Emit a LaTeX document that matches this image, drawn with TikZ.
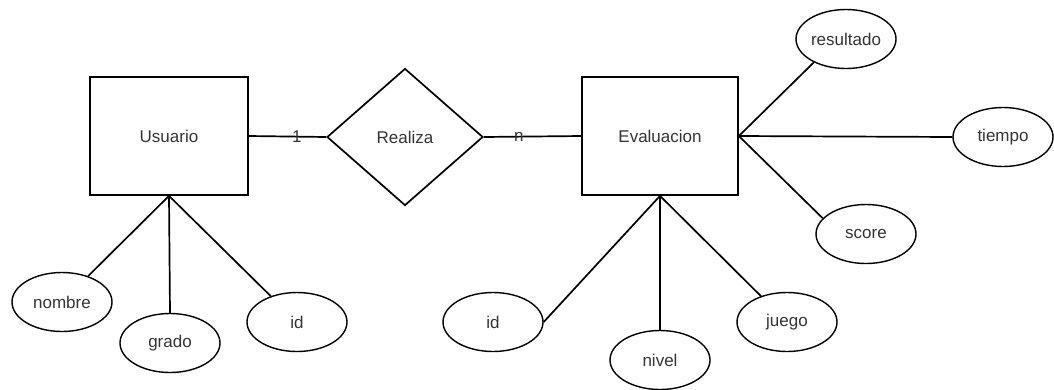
\documentclass[tikz,border=0pt]{standalone}
\usepackage{fontspec}
\setmainfont{Liberation Sans}
\usetikzlibrary{shapes.geometric}
\newcommand\diafont{\fontsize{17}{20}\selectfont}
\begin{document}
\begin{tikzpicture}[x=1pt,y=-1pt,
  lw/.style={line width=1.7pt},
  entity/.style={draw, lw, rectangle, inner sep=0pt, minimum height=118pt, text=black!80, font=\diafont},
  relation/.style={draw, lw, diamond, inner sep=0pt, minimum width=156pt, minimum height=137pt, text=black!80, font=\diafont},
  attr/.style={draw, line width=1.4pt, ellipse, inner sep=0pt, minimum width=100pt, minimum height=59pt, text=black!80, font=\diafont},
  conn/.style={lw},
  card/.style={text=black!80, font=\diafont, inner sep=0pt}]
\useasboundingbox (0,0) rectangle (1054,389);
% entities and relation
\node[entity, minimum width=158pt] (usuario) at (169,136) {Usuario};
\node[entity, minimum width=156pt] (evaluacion) at (660,136) {Evaluacion};
\node[relation] (realiza) at (405,137) {Realiza};
% attributes of Usuario
\node[attr] (nombre) at (62,302) {nombre};
\node[attr] (grado) at (170,343) {grado};
\node[attr] (uid) at (297,322) {id};
% attributes of Evaluacion
\node[attr] (eid) at (493,322) {id};
\node[attr] (nivel) at (660,360) {nivel};
\node[attr] (juego) at (787,322) {juego};
\node[attr] (resultado) at (846,39) {resultado};
\node[attr] (tiempo) at (1003,137) {tiempo};
\node[attr] (score) at (866,234) {score};
% relationship connectors
\draw[conn] (usuario.east) -- (realiza.west) node[card, pos=0.62] {1};
\draw[conn] (realiza.east) -- (evaluacion.west) node[card, pos=0.36] {n};
% attribute connectors
\draw[conn] (usuario.south) -- (nombre);
\draw[conn] (usuario.south) -- (grado.north);
\draw[conn] (usuario.south) -- (uid);
\draw[conn] (evaluacion.south) -- (eid.east);
\draw[conn] (evaluacion.south) -- (nivel.north);
\draw[conn] (evaluacion.south) -- (juego);
\draw[conn] (evaluacion.east) -- (resultado.216);
\draw[conn] (evaluacion.east) -- (tiempo.west);
\draw[conn] (evaluacion.east) -- (score.160);
\end{tikzpicture}
\end{document}
